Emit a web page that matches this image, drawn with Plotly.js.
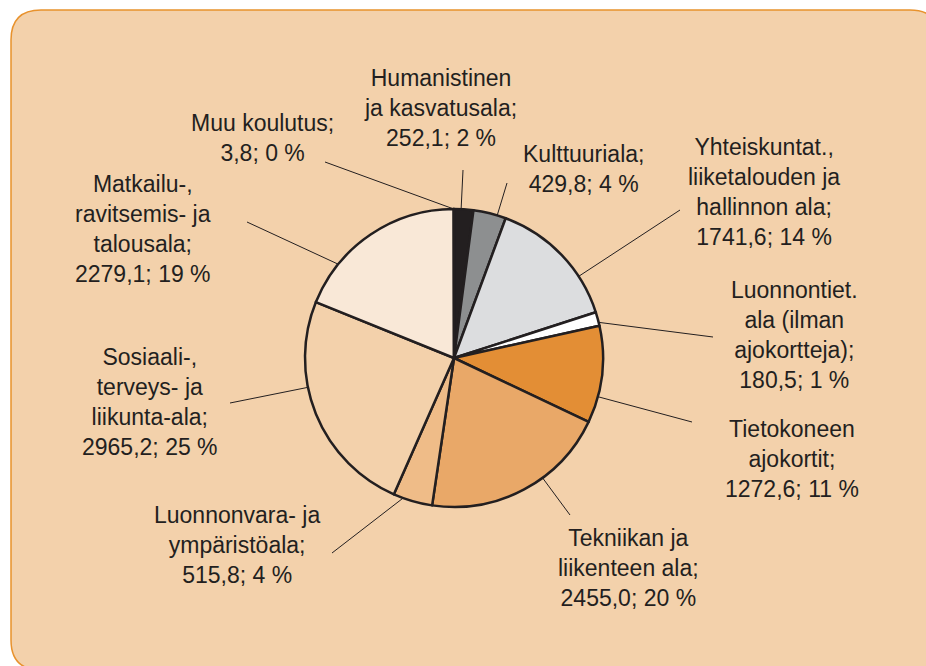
<!DOCTYPE html>
<html>
<head>
<meta charset="utf-8">
<script src="https://cdn.plot.ly/plotly-3.0.1.min.js"></script>
<style>
  html, body { margin: 0; padding: 0; background: #ffffff; }
  #chart { width: 926px; height: 666px; }
</style>
</head>
<body>
<div id="chart"></div>
<script>
// ---- data ----
const categories = [
  'Humanistinen ja kasvatusala',
  'Kulttuuriala',
  'Yhteiskuntat., liiketalouden ja hallinnon ala',
  'Luonnontiet. ala (ilman ajokortteja)',
  'Tietokoneen ajokortit',
  'Tekniikan ja liikenteen ala',
  'Luonnonvara- ja ympäristöala',
  'Sosiaali-, terveys- ja liikunta-ala',
  'Matkailu-, ravitsemis- ja talousala',
  'Muu koulutus'
];
const labelLines = [
  'Humanistinen<br>ja kasvatusala',
  'Kulttuuriala',
  'Yhteiskuntat.,<br>liiketalouden ja<br>hallinnon ala',
  'Luonnontiet.<br>ala (ilman<br>ajokortteja)',
  'Tietokoneen<br>ajokortit',
  'Tekniikan ja<br>liikenteen ala',
  'Luonnonvara- ja<br>ympäristöala',
  'Sosiaali-,<br>terveys- ja<br>liikunta-ala',
  'Matkailu-,<br>ravitsemis- ja<br>talousala',
  'Muu koulutus'
];
const values = [252.1, 429.8, 1741.6, 180.5, 1272.6, 2455.0, 515.8, 2965.2, 2279.1, 3.8];

// ---- styles / layout positions (pixels) ----
const sliceColors = ['#231f20', '#8d8f90', '#dcdddf', '#ffffff', '#e38e35',
                     '#e9a868', '#efbc88', '#f3d1ab', '#f9e8d7', '#f3d1ab'];
const labelX = [440, 583, 764, 794, 792, 628, 237, 150, 143, 262];
const labelY = [108, 169, 192, 335, 459, 568, 545, 402, 229, 138];
const leaderEndX = [463, 507, 680, 713, 692, 570, 332, 230, 247, 325];
const leaderEndY = [170, 183, 210, 337, 422, 515, 553, 403, 222, 162];

const W = 926, H = 666;
const pieCx = 454, pieCy = 358, pieR = 149;
const px = x => x / W;
const py = y => 1 - y / H;

const total = values.reduce((a, b) => a + b, 0);
const fmt = v => v.toFixed(1).replace('.', ',');

// annotations (labels)
const annotations = values.map((v, i) => ({
  xref: 'paper', yref: 'paper',
  x: px(labelX[i]), y: py(labelY[i]),
  xanchor: 'center', yanchor: 'middle',
  showarrow: false,
  align: 'center',
  text: labelLines[i] + ';<br>' + fmt(v) + '; ' + Math.round(v / total * 100) + ' %',
  font: { family: 'Liberation Sans, Arial, sans-serif', size: 23, color: '#231f20' }
}));

// leader lines: start on the pie edge inside each slice, towards the label
const shapes = [];
// rounded background panel
(function () {
  const x0 = 11, y0 = 10, x1 = 940, y1 = 670, r = 30;
  const P = (x, y) => px(x) + ',' + py(y);
  const path = 'M' + P(x0 + r, y0) + ' L' + P(x1 - r, y0) + ' Q' + P(x1, y0) + ' ' + P(x1, y0 + r) +
    ' L' + P(x1, y1 - r) + ' Q' + P(x1, y1) + ' ' + P(x1 - r, y1) +
    ' L' + P(x0 + r, y1) + ' Q' + P(x0, y1) + ' ' + P(x0, y1 - r) +
    ' L' + P(x0, y0 + r) + ' Q' + P(x0, y0) + ' ' + P(x0 + r, y0) + ' Z';
  shapes.push({ type: 'path', xref: 'paper', yref: 'paper', path: path,
    fillcolor: '#f3d1ab', line: { color: '#e8922d', width: 1.5 }, layer: 'below' });
})();

let cum = 0;
values.forEach((v, i) => {
  const a0 = cum / total * 360;
  cum += v;
  const a1 = cum / total * 360;
  const w = a1 - a0;
  const dx = leaderEndX[i] - pieCx, dy = leaderEndY[i] - pieCy;
  let th = Math.atan2(dx, -dy) * 180 / Math.PI;
  if (th < 0) th += 360;
  const lo = a0 + 0.25 * w, hi = a1 - 0.25 * w;
  th = Math.min(Math.max(th, lo), hi);
  const rad = th * Math.PI / 180;
  const sx = pieCx + pieR * Math.sin(rad);
  const sy = pieCy - pieR * Math.cos(rad);
  shapes.push({
    type: 'line', xref: 'paper', yref: 'paper',
    x0: px(sx), y0: py(sy), x1: px(leaderEndX[i]), y1: py(leaderEndY[i]),
    line: { color: '#231f20', width: 1 }, layer: 'below'
  });
});

const trace = {
  type: 'pie',
  labels: categories,
  values: values,
  sort: false,
  direction: 'clockwise',
  rotation: 0,
  textinfo: 'none',
  hoverinfo: 'none',
  showlegend: false,
  marker: { colors: sliceColors, line: { color: '#231f20', width: 2.5 } },
  domain: { x: [px(pieCx - pieR), px(pieCx + pieR)], y: [py(pieCy + pieR), py(pieCy - pieR)] }
};

const layout = {
  width: W, height: H,
  margin: { l: 0, r: 0, t: 0, b: 0 },
  paper_bgcolor: '#ffffff',
  plot_bgcolor: 'rgba(0,0,0,0)',
  showlegend: false,
  annotations: annotations,
  shapes: shapes,
  font: { family: 'Liberation Sans, Arial, sans-serif', color: '#231f20' }
};

Plotly.newPlot('chart', [trace], layout, { staticPlot: true, displayModeBar: false });
</script>
</body>
</html>
